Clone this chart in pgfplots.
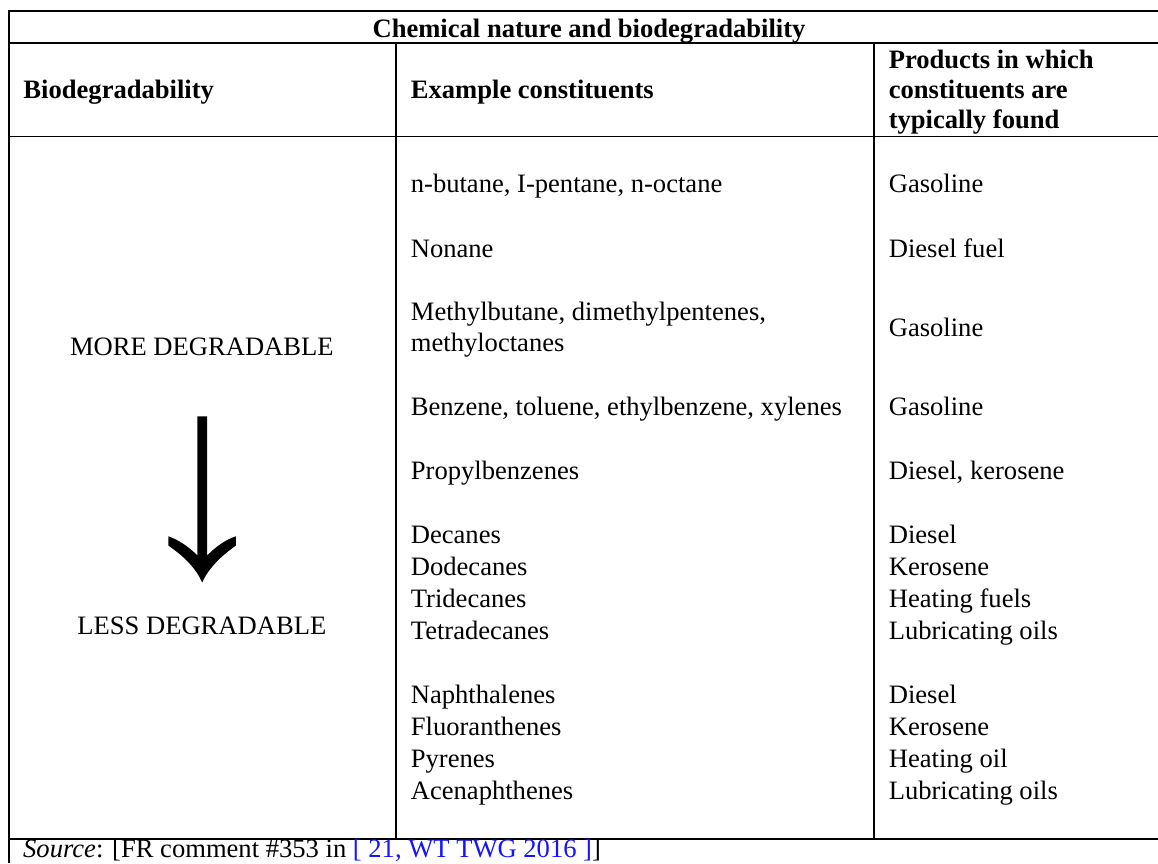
\documentclass[border=0pt]{standalone}
\usepackage{pgfplots}
\pgfplotsset{compat=1.18}
\usepackage{fontspec}
\setmainfont{Liberation Serif}
\definecolor{linkblue}{RGB}{20,20,255}
\newcommand{\fz}{\fontsize{26.6pt}{32pt}\selectfont}
\tikzset{t/.style={font=\fz, inner sep=0pt, text=black}}
\begin{document}
\begin{tikzpicture}
\begin{axis}[x=1pt, y=1pt, xmin=0, xmax=1158, ymin=0, ymax=863, y dir=reverse,
  hide axis, clip=false, scale only axis, no markers,
  rule/.style={black, line width=1.8pt, line cap=rect}]
% bounding frame (invisible)
\addplot[draw=none] coordinates {(0,0) (1158,863)};
% horizontal rules
\addplot[rule] coordinates {(9,11.3) (1158,11.3)};
\addplot[rule] coordinates {(9,42.7) (1158,42.7)};
\addplot[rule] coordinates {(9,136.7) (1158,136.7)};
\addplot[rule] coordinates {(9,840) (1158,840)};
% vertical rules
\addplot[rule] coordinates {(9,11.3) (9,863)};
\addplot[rule] coordinates {(396,42.7) (396,840)};
\addplot[rule] coordinates {(875,42.7) (875,840)};
% title
\node[t, anchor=base] at (axis cs:589.5,37.3) {\bfseries Chemical nature and biodegradability};
% headers
\node[t, anchor=base west] at (axis cs:23.3,99) {\bfseries Biodegradability};
\node[t, anchor=base west] at (axis cs:411,99) {\bfseries Example constituents};
\node[t, anchor=base west] at (axis cs:889.3,68.3) {\bfseries Products in which};
\node[t, anchor=base west] at (axis cs:889.3,99) {\bfseries constituents are};
\node[t, anchor=base west] at (axis cs:889.3,129) {\bfseries typically found};
% column 1
\node[t, anchor=base] at (axis cs:202,356) {MORE DEGRADABLE};
\node[t, anchor=base] at (axis cs:202,635) {LESS DEGRADABLE};
\fill (axis cs:197.5,416.7) -- (axis cs:207.3,416.7) -- (axis cs:207.3,556)
  .. controls (axis cs:216,547) and (axis cs:226,540) .. (axis cs:236,536.7)
  -- (axis cs:236,546)
  .. controls (axis cs:222,556) and (axis cs:209,568) .. (axis cs:202.3,583)
  .. controls (axis cs:196,568) and (axis cs:183,556) .. (axis cs:168.5,546)
  -- (axis cs:168.5,536.7)
  .. controls (axis cs:178,540) and (axis cs:189,547) .. (axis cs:197.5,556) -- cycle;
% column 2
\node[t, anchor=base west] at (axis cs:411,192.7) {n-butane, I-pentane, n-octane};
\node[t, anchor=base west] at (axis cs:411,257.7) {Nonane};
\node[t, anchor=base west] at (axis cs:411,320.7) {Methylbutane, dimethylpentenes,};
\node[t, anchor=base west] at (axis cs:411,352) {methyloctanes};
\node[t, anchor=base west] at (axis cs:411,416) {Benzene, toluene, ethylbenzene, xylenes};
\node[t, anchor=base west] at (axis cs:411,480) {Propylbenzenes};
\node[t, anchor=base west] at (axis cs:411,544) {Decanes};
\node[t, anchor=base west] at (axis cs:411,576) {Dodecanes};
\node[t, anchor=base west] at (axis cs:411,608) {Tridecanes};
\node[t, anchor=base west] at (axis cs:411,640) {Tetradecanes};
\node[t, anchor=base west] at (axis cs:411,704) {Naphthalenes};
\node[t, anchor=base west] at (axis cs:411,736) {Fluoranthenes};
\node[t, anchor=base west] at (axis cs:411,768) {Pyrenes};
\node[t, anchor=base west] at (axis cs:411,800) {Acenaphthenes};
% column 3
\node[t, anchor=base west] at (axis cs:889.3,192.7) {Gasoline};
\node[t, anchor=base west] at (axis cs:889.3,257.7) {Diesel fuel};
\node[t, anchor=base west] at (axis cs:889.3,336.7) {Gasoline};
\node[t, anchor=base west] at (axis cs:889.3,416) {Gasoline};
\node[t, anchor=base west] at (axis cs:889.3,480) {Diesel, kerosene};
\node[t, anchor=base west] at (axis cs:889.3,544) {Diesel};
\node[t, anchor=base west] at (axis cs:889.3,576) {Kerosene};
\node[t, anchor=base west] at (axis cs:889.3,608) {Heating fuels};
\node[t, anchor=base west] at (axis cs:889.3,640) {Lubricating oils};
\node[t, anchor=base west] at (axis cs:889.3,704) {Diesel};
\node[t, anchor=base west] at (axis cs:889.3,736) {Kerosene};
\node[t, anchor=base west] at (axis cs:889.3,768) {Heating oil};
\node[t, anchor=base west] at (axis cs:889.3,800) {Lubricating oils};
% source
\node[t, anchor=base west] at (axis cs:23,858) {\itshape Source\upshape: [FR comment \#353 in \textcolor{linkblue}{[ 21, WT TWG 2016 ]}]};
\end{axis}
\end{tikzpicture}
\end{document}
